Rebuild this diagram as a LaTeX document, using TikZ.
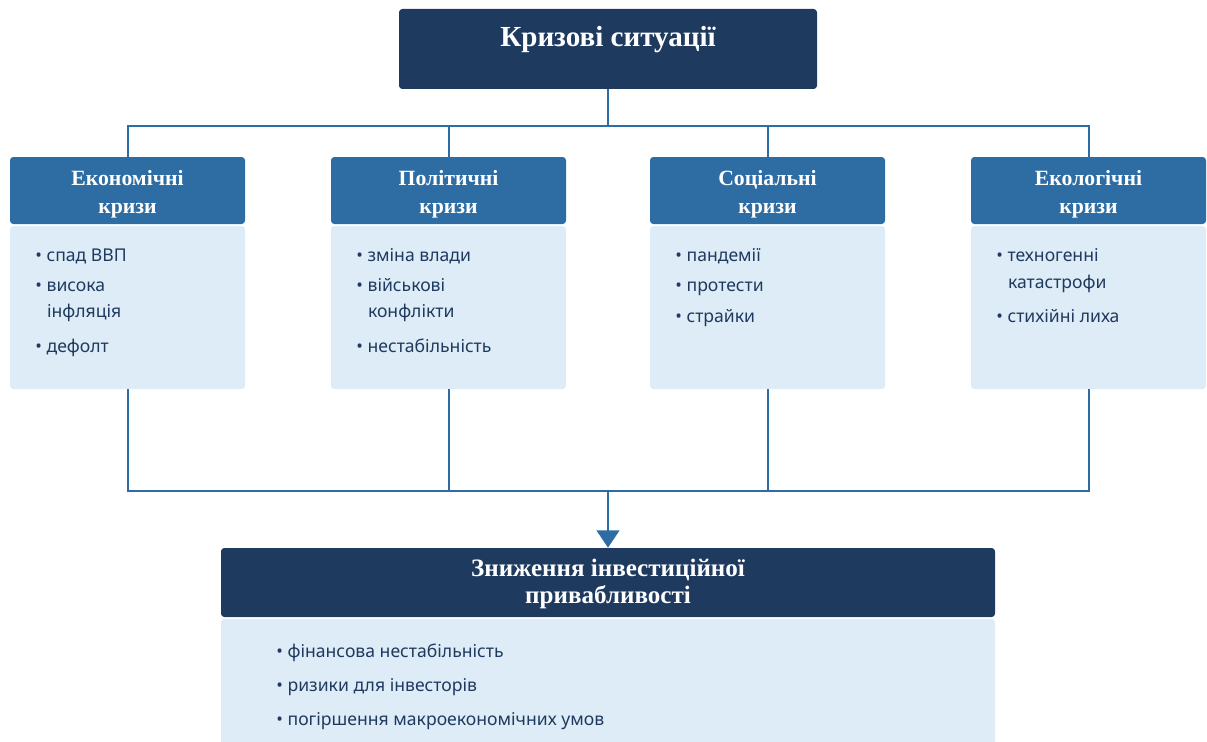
\documentclass[tikz,border=0pt]{standalone}
\usepackage{fontspec}
\setmainfont{Noto Sans}
\newfontfamily\headfont{Liberation Serif}
\usetikzlibrary{arrows.meta}
\definecolor{navy}{HTML}{1F3A5F}
\definecolor{midblue}{HTML}{2E6DA4}
\definecolor{paleblue}{HTML}{DDECF6}
\definecolor{inktext}{HTML}{1F3A5F}
\newcommand\bul{\makebox[8.5pt][l]{•}}
\newcommand\cont{\hspace*{8.8pt}}
\begin{document}
\begin{tikzpicture}[x=0.75pt,y=-0.75pt,
  darkbox/.style={fill=navy, rounded corners=2.5pt, inner sep=0pt},
  cathead/.style={fill=midblue, rounded corners=2.5pt, minimum width=176.25pt,
    minimum height=50.25pt, inner sep=0pt},
  catbody/.style={fill=paleblue, rounded corners=2.5pt, minimum width=176.25pt,
    minimum height=122.25pt, inner sep=0pt},
  headtext/.style={text=white, align=center, inner sep=0pt, yshift=-3pt,
    font=\headfont\bfseries\fontsize{16.3}{20.8}\selectfont},
  bigtext/.style={text=white, align=center, inner sep=0pt,
    font=\headfont\bfseries\fontsize{21.8}{20.5}\selectfont},
  itemline/.style={anchor=base west, inner sep=0pt, text=inktext,
    font=\fontsize{13.2}{16}\selectfont},
  link/.style={draw=midblue, line width=1.5pt},
]
\useasboundingbox (0,0) rectangle (1207,742);

% top box
\node[darkbox, minimum width=313.5pt, minimum height=60pt] (top) at (608,49) {};
\node[bigtext, anchor=base] (toptext) at (608,46.7) {Кризові ситуації};

% category headers
\node[cathead] (h1) at (127.5,190.5) {};
\node[cathead] (h2) at (448.5,190.5) {};
\node[cathead] (h3) at (767.5,190.5) {};
\node[cathead] (h4) at (1088.5,190.5) {};
\node[headtext] (t1) at (h1) {Економічні\\кризи};
\node[headtext] (t2) at (h2) {Політичні\\кризи};
\node[headtext] (t3) at (h3) {Соціальні\\кризи};
\node[headtext] (t4) at (h4) {Екологічні\\кризи};

% category bodies
\node[catbody] (b1) at (127.5,307.5) {};
\node[catbody] (b2) at (448.5,307.5) {};
\node[catbody] (b3) at (767.5,307.5) {};
\node[catbody] (b4) at (1088.5,307.5) {};

% economic
\node[itemline] (e1)  at (35,261)   {\bul спад ВВП};
\node[itemline] (e2)  at (35,291)   {\bul висока};
\node[itemline] (e2b) at (35,317)   {\cont інфляція};
\node[itemline] (e3)  at (35,352)   {\bul дефолт};
% political
\node[itemline] (p1)  at (356,261)  {\bul зміна влади};
\node[itemline] (p2)  at (356,291)  {\bul військові};
\node[itemline] (p2b) at (356,317)  {\cont конфлікти};
\node[itemline] (p3)  at (356,352)  {\bul нестабільність};
% social
\node[itemline] (s1)  at (675,261)  {\bul пандемії};
\node[itemline] (s2)  at (675,291.5){\bul протести};
\node[itemline] (s3)  at (675,322)  {\bul страйки};
% ecological
\node[itemline] (g1)  at (996,261)  {\bul техногенні};
\node[itemline] (g1b) at (996,288)  {\cont катастрофи};
\node[itemline] (g2)  at (996,322)  {\bul стихійні лиха};

% result box
\node[darkbox, minimum width=580.5pt, minimum height=51.75pt] (rh) at (608,582.5) {};
\node[fill=paleblue, rounded corners=2.5pt, inner sep=0pt, minimum width=580.5pt,
  minimum height=105pt] (rb) at (608,689) {};
\node[bigtext, font=\headfont\bfseries\fontsize{18.8}{20.5}\selectfont, yshift=-1.2pt]
  (rt) at (rh) {Зниження інвестиційної\\привабливості};
\node[itemline] (r1) at (276,657) {\bul фінансова нестабільність};
\node[itemline] (r2) at (276,691) {\bul ризики для інвесторів};
\node[itemline] (r3) at (276,725) {\bul погіршення макроекономічних умов};

% upper bus
\coordinate (bustop) at (608,126);
\draw[link] (top.south) -- (bustop);
\draw[link] (h1.north) -- (h1.north |- bustop) -| (h4.north);
\draw[link] (h2.north) -- (h2.north |- bustop);
\draw[link] (h3.north) -- (h3.north |- bustop);

% lower bus
\coordinate (busbot) at (608,491);
\draw[link] (b1.south) -- (b1.south |- busbot) -| (b4.south);
\draw[link] (b2.south) -- (b2.south |- busbot);
\draw[link] (b3.south) -- (b3.south |- busbot);
\draw[link, -{Triangle[width=17pt,length=13pt]}] (busbot) -- (rh.north);
\end{tikzpicture}
\end{document}
